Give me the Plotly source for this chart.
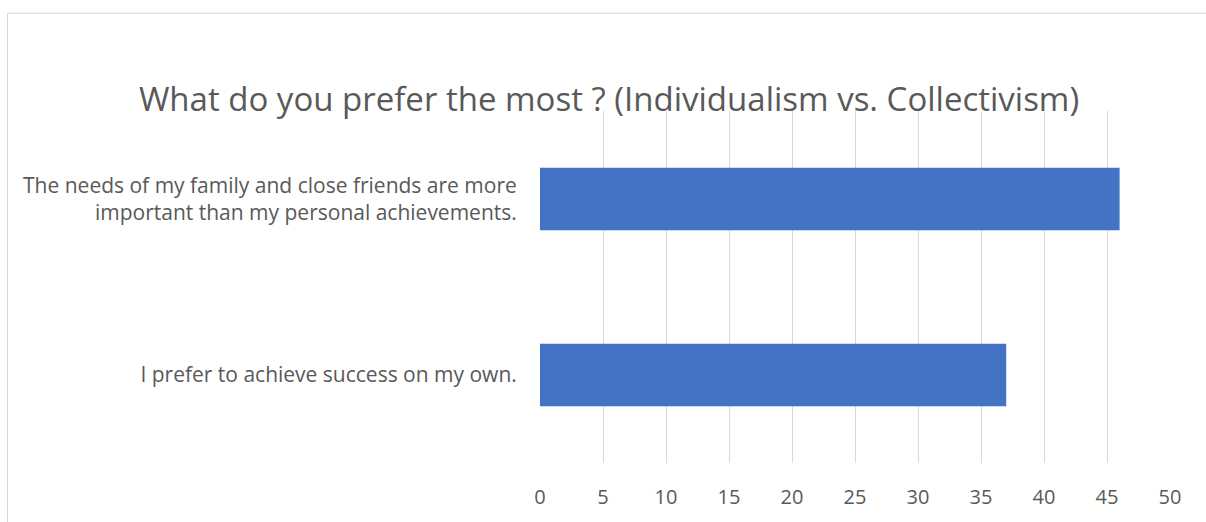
import plotly.graph_objects as go

categories = ["I prefer to achieve success on my own.",
              "The needs of my family and close friends are more<br>important than my personal achievements."]
values = [37, 46]
tick_vals = [0, 5, 10, 15, 20, 25, 30, 35, 40, 45, 50]

W, H = 1206, 522
ml, mr, mt, mb = 540, 36, 111, 56
pw, ph = W - ml - mr, H - mt - mb

def px_to_paper_x(px):
    return (px - ml) / pw

def px_to_paper_y(py):
    return (H - mb - py) / ph

fig = go.Figure(go.Bar(
    y=categories, x=values, orientation="h",
    marker=dict(color="#4472C4", line=dict(width=0)),
))

fig.update_layout(
    width=W, height=H,
    margin=dict(l=ml, r=mr, t=mt, b=mb),
    paper_bgcolor="white", plot_bgcolor="white",
    bargap=0.646,
    showlegend=False,
    title=dict(text="What do you prefer the most ? (Individualism vs. Collectivism)",
               x=0.505, xref="container", xanchor="center", y=1 - 99 / H, yanchor="middle",
               font=dict(family="Open Sans", size=33, color="#595959")),
    font=dict(family="Open Sans", color="#595959"),
    shapes=[dict(type="rect", xref="paper", yref="paper",
                 x0=px_to_paper_x(7.5), x1=px_to_paper_x(1230),
                 y0=px_to_paper_y(560), y1=px_to_paper_y(12.5),
                 line=dict(color="#D9D9D9", width=1), fillcolor="rgba(0,0,0,0)", layer="below")],
)
fig.update_xaxes(range=[0, 50], tickvals=tick_vals, showgrid=True, gridcolor="#D9D9D9",
                 gridwidth=1, zeroline=False, showline=False,
                 ticks="outside", ticklen=16, tickcolor="rgba(0,0,0,0)",
                 tickfont=dict(size=20, color="#595959"), fixedrange=True)
fig.update_yaxes(range=[-0.5, 1.5], showgrid=False, zeroline=False, showline=False,
                 ticks="outside", ticklen=18, tickcolor="rgba(0,0,0,0)",
                 tickfont=dict(size=21, color="#595959"), fixedrange=True)

fig.write_html("out.html", config={"displayModeBar": False},
               post_script="document.body.style.margin='0';")
